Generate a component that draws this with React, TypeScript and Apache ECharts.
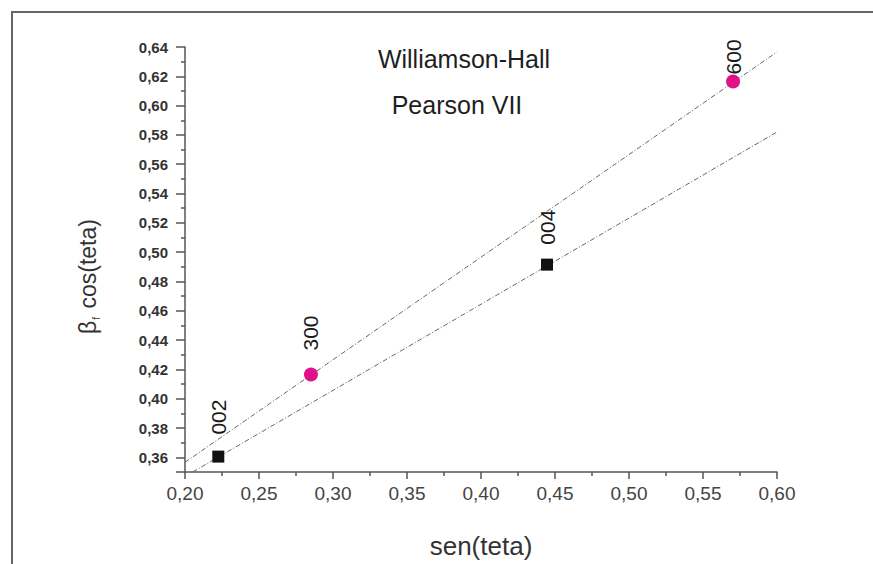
import React, { useEffect, useRef } from "react";
import * as echarts from "echarts";

// Data
const squareX = [0.2225, 0.4446];
const squareY = [0.3605, 0.4915];
const squareLabels = ["002", "004"];
const circleX = [0.2851, 0.5703];
const circleY = [0.4165, 0.6165];
const circleLabels = ["300", "600"];
// fitted lines (end points)
const fitCircleX = [0.2, 0.6];
const fitCircleY = [0.3566, 0.6366];
const fitSquareX = [0.2052, 0.6];
const fitSquareY = [0.35, 0.582];
const xTicks = { min: 0.2, max: 0.6, step: 0.05 };
const yTicks = { min: 0.35, max: 0.64, step: 0.02 };

const FONT = "'Liberation Sans', Arial, sans-serif";
const fmt = (v: number) => v.toFixed(2).replace(".", ",");

export default function App() {
  const ref = useRef<HTMLDivElement>(null);
  useEffect(() => {
    if (!ref.current) return;
    const chart = echarts.init(ref.current, null, { renderer: "svg" });
    const labelDist = [16, 14];
    const circleDist = [17, 0];
    const labelBase = {
      show: true,
      position: "top",
      rotate: 90,
      align: "left",
      verticalAlign: "middle",
      fontFamily: FONT,
      fontSize: 21,
      color: "#1a1a1a",
      formatter: (p: any) => p.name,
    };
    chart.setOption({
      animation: false,
      backgroundColor: "#fff",
      grid: { left: 185, right: 96, top: 47, bottom: 91, containLabel: false },
      xAxis: {
        type: "value",
        min: xTicks.min,
        max: xTicks.max,
        interval: xTicks.step,
        name: "sen(teta)",
        nameLocation: "middle",
        nameGap: 61,
        nameTextStyle: { fontFamily: FONT, fontSize: 26, color: "#333" },
        axisLine: { show: true, lineStyle: { color: "#555", width: 1.5 } },
        axisTick: { show: true, length: 7, lineStyle: { color: "#555", width: 1.5 } },
        minorTick: { show: true, splitNumber: 2, length: 4, lineStyle: { color: "#555", width: 1.5 } },
        splitLine: { show: false },
        axisLabel: {
          margin: 12,
          fontFamily: FONT,
          fontSize: 19,
          color: "#444",
          formatter: (v: number) => fmt(v),
        },
      },
      yAxis: {
        type: "value",
        min: yTicks.min,
        max: yTicks.max,
        minInterval: yTicks.step,
        maxInterval: yTicks.step,
        splitNumber: 15,
        name: "{a|β}{s|f}{a| cos(teta)}",
        nameLocation: "middle",
        nameGap: 84,
        nameRotate: 90,
        nameTextStyle: {
          fontFamily: FONT,
          color: "#333",
          padding: [0, 34, 0, 0],
          rich: {
            a: { fontFamily: FONT, fontSize: 23, color: "#333", lineHeight: 26 },
            s: { fontFamily: FONT, fontSize: 10, color: "#333", lineHeight: 26, verticalAlign: "bottom", padding: [12, 2, 0, 1] },
          },
        },
        axisLine: { show: true, lineStyle: { color: "#555", width: 1.5 } },
        axisTick: { show: true, length: 9, lineStyle: { color: "#555", width: 1.5 } },
        minorTick: { show: true, splitNumber: 2, length: 4, lineStyle: { color: "#555", width: 1.5 } },
        splitLine: { show: false },
        axisLabel: {
          margin: 17,
          fontFamily: FONT,
          fontSize: 15,
          fontWeight: "bold",
          color: "#333",
          formatter: (v: number) => (Math.abs(v - yTicks.min) < 1e-6 ? "" : fmt(v)),
        },
      },
      series: [
        {
          type: "line",
          data: fitCircleX.map((x, i) => [x, fitCircleY[i]]),
          showSymbol: false,
          silent: true,
          lineStyle: { color: "#666", width: 1, type: [5, 2, 1, 2] },
          z: 1,
        },
        {
          type: "line",
          data: fitSquareX.map((x, i) => [x, fitSquareY[i]]),
          showSymbol: false,
          silent: true,
          lineStyle: { color: "#666", width: 1, type: [5, 2, 1, 2] },
          z: 1,
        },
        {
          type: "scatter",
          symbol: "rect",
          symbolSize: 12,
          itemStyle: { color: "#111", opacity: 1 },
          data: squareX.map((x, i) => ({
            name: squareLabels[i],
            value: [x, squareY[i]],
            label: { ...labelBase, distance: labelDist[i] },
          })),
          z: 3,
        },
        {
          type: "scatter",
          symbol: "circle",
          symbolSize: 14,
          itemStyle: { color: "#e0128a", opacity: 1 },
          data: circleX.map((x, i) => ({
            name: circleLabels[i],
            value: [x, circleY[i]],
            label: { ...labelBase, distance: circleDist[i] },
          })),
          z: 3,
        },
      ],
      graphic: [
        { type: "line", shape: { x1: 11, y1: 12, x2: 873, y2: 12 }, style: { stroke: "#666", lineWidth: 2 } },
        { type: "line", shape: { x1: 12, y1: 11, x2: 12, y2: 564 }, style: { stroke: "#666", lineWidth: 2 } },
        {
          type: "text",
          x: 464,
          y: 59,
          style: { text: "Williamson-Hall", font: `25px ${FONT}`, fill: "#1e1e1e", textAlign: "center", textVerticalAlign: "middle" },
        },
        {
          type: "text",
          x: 457,
          y: 105,
          style: { text: "Pearson VII", font: `25px ${FONT}`, fill: "#1e1e1e", textAlign: "center", textVerticalAlign: "middle" },
        },
      ],
    });
    return () => chart.dispose();
  }, []);
  return <div ref={ref} style={{ position: "absolute", left: 0, top: 0, width: 873, height: 564 }} />;
}
